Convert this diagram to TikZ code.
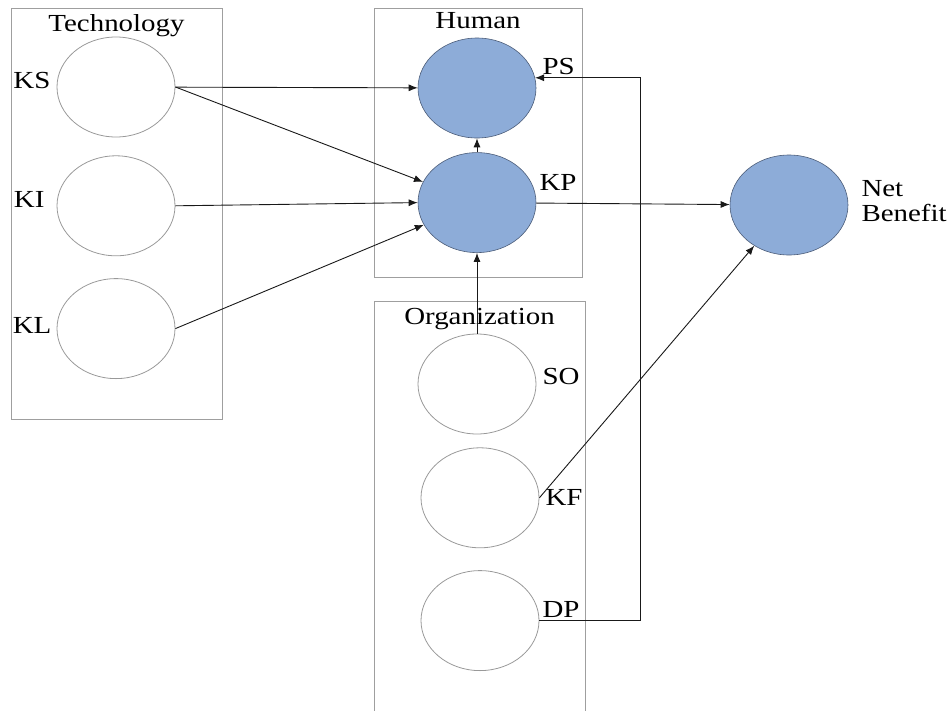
\documentclass[tikz,border=0pt]{standalone}
\usepackage{fontspec}
\setmainfont{Liberation Serif}[FakeStretch=1.18]
\usetikzlibrary{positioning, shapes.geometric, arrows.meta}

\definecolor{kblue}{RGB}{141,172,216}
\definecolor{kedge}{RGB}{75,92,120}

\begin{document}
\begin{tikzpicture}[x=1pt,y=-1pt,font=\fontsize{24.5}{22}\selectfont,
  grp/.style={rectangle,draw=gray!75,line width=0.8pt},
  var/.style={ellipse,draw=gray!80,line width=0.8pt,minimum width=118pt,minimum height=100pt,inner sep=0pt},
  kvar/.style={var,draw=kedge,line width=0.6pt,fill=kblue},
  lbl/.style={inner sep=0pt},
  arr/.style={-{Latex[length=9pt,width=7pt]},line width=0.9pt,black!90}]
  \useasboundingbox (0,0) rectangle (951,710);
  \node[grp, minimum width=211pt, minimum height=411pt] (tech) at (116.5,213.5) {};
  \node[grp, minimum width=208pt, minimum height=269pt] (human) at (478,142.5) {};
  \node[grp, minimum width=211pt, minimum height=438pt] (org) at (479.5,520) {};
  \node[lbl, anchor=base] at ([yshift=-24pt]tech.north)  {Technology};
  \node[lbl, anchor=base] at ([yshift=-21pt]human.north) {Human};
  \node[lbl, anchor=base] at ([yshift=-24pt]org.north)   {Organization};

  \node[var]          (KS) at (116,87)          {};
  \node[var]          (KI) [below=18pt of KS]   {};
  \node[var]          (KL) [below=22pt of KI]   {};
  \node[kvar]         (PS) at (477,88)          {};
  \node[kvar]         (KP) [below=14pt of PS]   {};
  \node[var]          (SO) at (477,384)         {};
  \node[var]          (KF) [below=13pt of SO, xshift=3pt] {};
  \node[var]          (DP) [below=22pt of KF]   {};
  \node[kvar]         (NB) at (789,205)         {};

  \node[lbl] [left=6pt of KS, yshift=6pt]   {KS};
  \node[lbl] [left=12pt of KI, yshift=6pt]  {KI};
  \node[lbl] [left=5pt of KL, yshift=3pt]   {KL};
  \node[lbl] [right=6pt of PS, yshift=21pt] {PS};
  \node[lbl] [right=3pt of KP, yshift=20pt] {KP};
  \node[lbl] [right=6pt of SO, yshift=7pt]  {SO};
  \node[lbl] [right=6pt of KF]              {KF};
  \node[lbl] [right=3pt of DP, yshift=11pt] {DP};
  \node[lbl, align=left, font=\fontsize{24.5}{24.5}\selectfont] [right=13pt of NB, yshift=4pt] {Net\\Benefit};

  \coordinate (fb) at (640,0);
  \draw[arr] (KS) -- (PS);
  \draw[arr] (KS.east) -- (KP);
  \draw[arr] (KI.east) -- (KP.west);
  \draw[arr] (KL.east) -- (KP);
  \draw[arr] (KP) -- (PS);
  \draw[arr] (SO) -- (KP);
  \draw[arr] (KP) -- (NB);
  \draw[arr] (KF.east) -- (NB);
  \draw[arr] (DP.east) -| (fb |- PS.10) -- (PS.10);
\end{tikzpicture}
\end{document}
